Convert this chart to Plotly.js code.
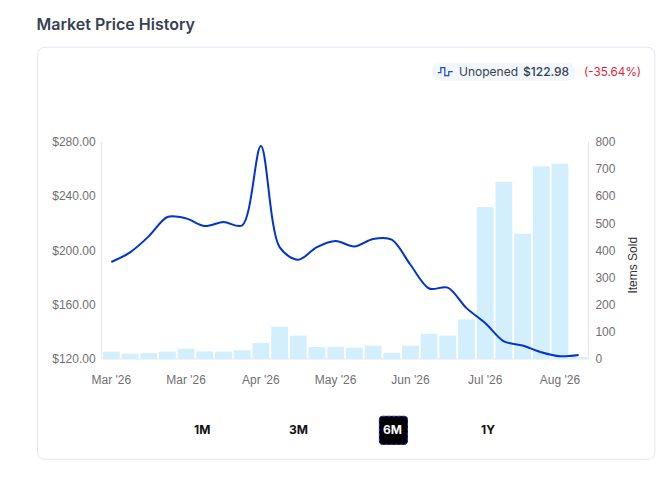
<!DOCTYPE html>
<html><head><meta charset="utf-8">
<script src="https://cdn.plot.ly/plotly-3.0.1.min.js"></script>
<style>html,body{margin:0;padding:0;background:#fff}#c{width:668px;height:477px}</style>
</head><body><div id="c"></div>
<script>
const weekIndex=[0,1,2,3,4,5,6,7,8,9,10,11,12,13,14,15,16,17,18,19,20,21,22,23,24,25];
const itemsSold=[27,20,21,27,38,28,27,32,59,119,86,44,45,42,49,23,49,93,86,146,560,653,462,711,720,7];
const priceIdx=weekIndex;
const price=[191.5,198.6,210.4,224.7,223.7,218,221,218.5,277,202.5,193.2,202.5,207,203,208.5,208,189.5,172,172.6,157.5,146.5,133,130,125,122,123];
const tickIdx=[0,4,8,12,16,20,24];
const tickLabels=["Mar '26","Mar '26","Apr '26","May '26","Jun '26","Jul '26","Aug '26"];
const priceTicks=[120,160,200,240,280];
const priceLabels=["$120.00","$160.00","$200.00","$240.00","$280.00"];
const soldTicks=[0,100,200,300,400,500,600,700,800];
const rangeButtons=["1M","3M","6M","1Y"];

const W=668,H=477,L=101.5,R=588.5,T=141.5,B=359;
const px=x=>(x-L)/(R-L), py=y=>(B-y)/(B-T);
function rr(x0,y0,x1,y1,r){
  const X=v=>px(v),Y=v=>py(v);
  return {type:'path',xref:'paper',yref:'paper',layer:'below',
    path:`M ${X(x0+r)} ${Y(y0)} L ${X(x1-r)} ${Y(y0)} Q ${X(x1)} ${Y(y0)} ${X(x1)} ${Y(y0+r)} L ${X(x1)} ${Y(y1-r)} Q ${X(x1)} ${Y(y1)} ${X(x1-r)} ${Y(y1)} L ${X(x0+r)} ${Y(y1)} Q ${X(x0)} ${Y(y1)} ${X(x0)} ${Y(y1-r)} L ${X(x0)} ${Y(y0+r)} Q ${X(x0)} ${Y(y0)} ${X(x0+r)} ${Y(y0)} Z`};
}
const INTER='Inter, sans-serif';
function note(text,x,y,anchor,size,color,weight){
  return {text:text,xref:'paper',yref:'paper',x:px(x),y:py(y),xanchor:anchor,yanchor:'middle',showarrow:false,
    font:{family:INTER,size:size,color:color,weight:weight||400},borderpad:0};
}
const iconPts=[[438,72],[441,72],[441,67],[445,67],[445,75],[449,75],[449,71],[453,71]];
const iconPath=iconPts.map((p,i)=>(i?'L ':'M ')+px(p[0])+' '+py(p[1])).join(' ');

const shapes=[
  Object.assign(rr(37,46.5,655.5,459.5,8),{fillcolor:'#fff',line:{color:'#e2e8f0',width:1}}),
  Object.assign(rr(432,62,576,80,9),{fillcolor:'#f1f7fd',line:{width:0}}),
  {type:'path',xref:'paper',yref:'paper',path:iconPath,line:{color:'#1d4ed8',width:1.25}},
  Object.assign(rr(379.5,416.5,407.5,444.5,3),{fillcolor:'#000',line:{color:'#000',width:1},layer:'above'}),
  Object.assign(rr(379.5,416.5,407.5,444.5,3),{fillcolor:'rgba(0,0,0,0)',line:{color:'#3030e8',width:1,dash:'3px,2px'},layer:'above'}),
  {type:'line',xref:'paper',yref:'paper',x0:0,x1:1,y0:0,y1:0,layer:'below',line:{color:'#e6e6e6',width:1}}
];
const btnX=[202,298,393,488];
const annotations=[
  note('Unopened',458.5,71,'left',12,'#374151',400),
  note('$122.98',522.5,71,'left',12,'#374151',500),
  note('(-35.64%)',583,71,'left',11.7,'#e11d3a',400),
  {text:'Items Sold',xref:'paper',yref:'paper',x:px(634),y:py(265),xanchor:'center',yanchor:'middle',textangle:-90,showarrow:false,
    font:{family:'Liberation Sans, Arial, sans-serif',size:12,color:'#333'}}
].concat(rangeButtons.map((b,i)=>note(b,btnX[i],430,'center',12,i===2?'#fff':'#111',700)));

const bars={type:'bar',x:weekIndex,y:itemsSold,yaxis:'y',width:0.9,marker:{color:'#d3eefd',line:{width:0}},hoverinfo:'skip',name:'Items Sold'};
const line={type:'scatter',mode:'lines',x:priceIdx,y:price,yaxis:'y2',line:{color:'#0033d0',width:2,shape:'spline',smoothing:0.9},name:'Unopened'};
const tickFont={family:'Liberation Sans, Arial, sans-serif',size:12,color:'#707070'};
const layout={
  width:W,height:H,paper_bgcolor:'#fff',plot_bgcolor:'rgba(0,0,0,0)',showlegend:false,bargap:0.1,
  margin:{l:L,r:W-R,t:T,b:H-B,pad:0},
  title:{text:'Market Price History',x:36.5/W,xanchor:'left',xref:'container',y:1-24/H,yanchor:'middle',yref:'container',
    font:{family:INTER,size:16,color:'#374151',weight:600}},
  xaxis:{range:[-0.5,25.5],tickvals:tickIdx,ticktext:tickLabels,showgrid:false,zeroline:false,showline:false,ticks:'',tickfont:tickFont,ticklabelstandoff:12,fixedrange:true},
  yaxis:{side:'right',range:[0,800],tickvals:soldTicks,showgrid:false,zeroline:false,showline:true,linecolor:'#e6e6e6',linewidth:1,ticks:'',tickfont:tickFont,ticklabelstandoff:4,fixedrange:true},
  yaxis2:{overlaying:'y',side:'left',range:[120,280],tickvals:priceTicks,ticktext:priceLabels,showgrid:false,zeroline:false,showline:true,linecolor:'#e6e6e6',linewidth:1,ticks:'',tickfont:tickFont,ticklabelstandoff:3,fixedrange:true},
  shapes:shapes,annotations:annotations
};
Plotly.newPlot('c',[bars,line],layout,{displayModeBar:false,responsive:false});
</script></body></html>
